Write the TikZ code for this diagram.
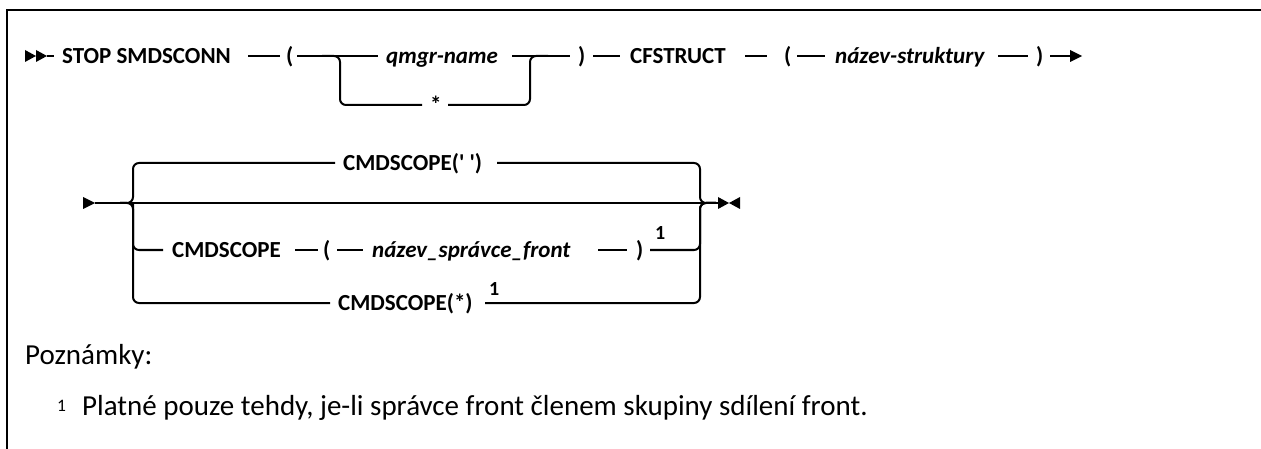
\documentclass[tikz,border=0pt]{standalone}
\usepackage{fontspec}
\setmainfont{Carlito}
\newcommand\kwf{\fontsize{23}{23}\selectfont\bfseries}
\newcommand\vrf{\fontsize{23}{23}\selectfont\bfseries\itshape}
\newcommand\ntf{\fontsize{29}{29}\selectfont}
\newcommand\supf{\fontsize{20}{20}\selectfont\bfseries}
\newcommand\nsupf{\fontsize{17.5}{17.5}\selectfont}
\begin{document}
\begin{tikzpicture}[x=1pt,y=-1pt,
  ln/.style={line width=2pt, rounded corners=6pt},
  kw/.style={font=\kwf, inner sep=0pt, anchor=base west},
  vr/.style={font=\vrf, inner sep=0pt, anchor=base west},
  nt/.style={font=\ntf, inner sep=0pt, anchor=base west},
  sp/.style={font=\supf, inner sep=0pt, anchor=base west},
  nsp/.style={font=\nsupf, inner sep=0pt, anchor=base west},
  tipfill/.style={fill=black}]
\useasboundingbox (0,0) rectangle (1261,449);
\draw[line width=2.5pt] (7,449) -- (7,10) -- (1261,10);

% ---------- row 1 ----------
\fill[tipfill] (25,50) -- (36,56) -- (25,62) -- cycle;
\fill[tipfill] (36,50) -- (47,56) -- (36,62) -- cycle;
\coordinate (a0) at (47,56);
\coordinate (a1) at (54,56);
\draw[ln] (a0) -- (a1);
\node[kw] (stop) at (62,63.4) {STOP SMDSCONN};
\coordinate (b0) at (248,56); \coordinate (b1) at (280,56);
\draw[ln] (b0) -- (b1);
\node[kw] (lp1) at (286,63.4) {(};
\coordinate (c0) at (297,56); \coordinate (c1) at (378,56);
\draw[ln] (c0) -- (c1);
\node[vr] (qmgr) at (386,63.4) {qmgr-name};
\coordinate (c2) at (512,56); \coordinate (c3) at (570,56);
\draw[ln] (c2) -- (c3);
\coordinate (d0) at (322,56); \coordinate (d1) at (340,56);
\coordinate (d2) at (340,105); \coordinate (d3) at (422,105);
\draw[ln] (d0) -- (d1) -- (d2) -- (d3);
\node[kw] (star) at (430,113) {*};
\coordinate (e0) at (448,105); \coordinate (e1) at (530,105);
\coordinate (e2) at (530,56); \coordinate (e3) at (548,56);
\draw[ln] (e0) -- (e1) -- (e2) -- (e3);
\node[kw] (rp1) at (578,63.4) {)};
\coordinate (f0) at (593,56); \coordinate (f1) at (620,56);
\draw[ln] (f0) -- (f1);
\node[kw] (cfs) at (630,63.4) {CFSTRUCT};
\coordinate (g0) at (745,56); \coordinate (g1) at (767,56);
\draw[ln] (g0) -- (g1);
\node[kw] (lp2) at (784,63.4) {(};
\coordinate (h0) at (797,56); \coordinate (h1) at (825,56);
\draw[ln] (h0) -- (h1);
\node[vr] (nstr) at (835,63.4) {název-struktury};
\coordinate (i0) at (998,56); \coordinate (i1) at (1028,56);
\draw[ln] (i0) -- (i1);
\node[kw] (rp2) at (1036,63.4) {)};
\coordinate (j0) at (1050,56); \coordinate (j1) at (1072,56);
\draw[ln] (j0) -- (j1);
\fill[tipfill] (1070,50) -- (1082,56) -- (1070,62) -- cycle;

% ---------- row 2 ----------
\fill[tipfill] (83,197) -- (95,203) -- (83,209) -- cycle;
\coordinate (m0) at (95,203); \coordinate (m1) at (718,203);
\draw[ln] (m0) -- (m1);
% left branches
\coordinate (L0) at (120,203); \coordinate (L1) at (133,203);
\coordinate (Lt) at (133,163); \coordinate (Lte) at (335,163);
\draw[ln] (L0) -- (L1) -- (Lt) -- (Lte);
\coordinate (Lb) at (133,303); \coordinate (Lbe) at (330,303);
\draw[ln] (L0) -- (L1) -- (Lb) -- (Lbe);
\coordinate (Lm) at (133,250); \coordinate (Lme) at (163,250);
\draw[ln] (L1) -- (Lm) -- (Lme);
% upper option
\node[kw] (cs1) at (343,170.4) {CMDSCOPE(\textquotesingle\ \textquotesingle)};
\coordinate (u0) at (497,163); \coordinate (R1) at (700,163);
\coordinate (R0) at (700,203); \coordinate (Re) at (716,203);
\draw[ln] (u0) -- (R1) -- (R0) -- (Re);
% middle option
\node[kw] (cs2) at (172,257.4) {CMDSCOPE};
\coordinate (n0) at (295,250); \coordinate (n1) at (318,250);
\draw[ln] (n0) -- (n1);
\node[kw] (lp3) at (323,257.4) {(};
\coordinate (o0) at (337,250); \coordinate (o1) at (363,250);
\draw[ln] (o0) -- (o1);
\node[vr] (nspr) at (372,257.4) {název\_správce\_front};
\coordinate (p0) at (598,250); \coordinate (p1) at (627,250);
\draw[ln] (p0) -- (p1);
\node[kw] (rp3) at (636,257.4) {)};
\node[sp] (fn1) at (655,240) {1};
\coordinate (q0) at (650,250); \coordinate (R2) at (700,250);
\draw[ln] (q0) -- (R2) -- (R0) -- (Re);
% lower option
\node[kw] (cs3) at (338,310.4) {CMDSCOPE(*)};
\node[sp] (fn2) at (489,295) {1};
\coordinate (r0) at (485,303); \coordinate (R3) at (700,303);
\draw[ln] (r0) -- (R3) -- (R0) -- (Re);
% end bowtie
\fill[tipfill] (718,197) -- (729,203) -- (718,209) -- cycle;
\fill[tipfill] (740,197) -- (729,203) -- (740,209) -- cycle;

% ---------- notes ----------
\node[nt] (pozn) at (25,364.3) {Poznámky:};
\node[nsp] (fnm) at (57,411) {1};
\node[nt] (fnt) at (82,415) {Platné pouze tehdy, je-li správce front členem skupiny sdílení front.};
\end{tikzpicture}
\end{document}
